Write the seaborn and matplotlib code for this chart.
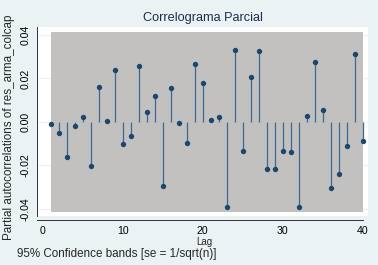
import numpy as np
import pandas as pd
from matplotlib import pyplot as plt
import seaborn as sns

# Partial autocorrelations
lags = list(range(1, 41))
pac = [-0.0008, -0.0049, -0.0162, -0.0017, 0.0024, -0.0204, 0.0162, 0.0006,
       0.0237, -0.0103, -0.0067, 0.0257, 0.0048, 0.0121, -0.0297, 0.0156,
       -0.0006, -0.0098, 0.0266, 0.0179, 0.0009, 0.0024, -0.0393, 0.0330,
       -0.0136, 0.0207, 0.0326, -0.0217, -0.0217, -0.0133, -0.0139, -0.0390,
       0.0029, 0.0274, 0.0055, -0.0303, -0.0239, -0.0113, 0.0315, -0.0087]
band = 0.0416  # 95% confidence band, 1.96/sqrt(n)

x_ticks = [0, 10, 20, 30, 40]
y_ticks = [-0.04, -0.02, 0.0, 0.02, 0.04]
y_ticklabels = ['-0.04', '-0.02', '0.00', '0.02', '0.04']

df = pd.DataFrame({'Lag': lags, 'pac': pac})

sns.set_style('white')
plt.rcParams['font.family'] = ['Liberation Sans', 'DejaVu Sans']

bg = '#EAF2F3'
navy = '#1A476F'

fig = plt.figure(figsize=(3.78, 2.65), dpi=100, facecolor=bg)
ax = fig.add_axes([37 / 378, 1 - 216 / 265, 331 / 378, 189 / 265])
ax.set_facecolor('white')

# confidence band
ax.fill_between([1, 40], [-band, -band], [band, band], color='#C3C1BF', lw=0, zorder=1)
# grid lines
for yt in y_ticks:
    ax.axhline(yt, color=bg, lw=0.8, zorder=0.5)

ax.vlines(df['Lag'], 0, df['pac'], color='#3A6891', lw=0.9, zorder=2)
sns.scatterplot(data=df, x='Lag', y='pac', ax=ax, color=navy, s=15,
                edgecolor=navy, linewidth=0, zorder=3)

ax.set_xlim(-0.71, 40.66)
ax.set_ylim(-0.0433, 0.0437)
ax.set_xticks(x_ticks)
ax.set_yticks(y_ticks)
ax.set_yticklabels(y_ticklabels, rotation=90, va='center')
ax.tick_params(axis='both', direction='out', length=3, width=0.6, color='#333333',
               labelsize=7.6, pad=1.5, labelcolor='black')
ax.tick_params(axis='x', pad=1.5)

for s in ['top', 'right']:
    ax.spines[s].set_visible(False)
ax.spines['left'].set_color('#333333')
ax.spines['bottom'].set_color('#333333')
ax.spines['left'].set_linewidth(0.7)
ax.spines['bottom'].set_linewidth(0.7)
ax.spines['bottom'].set_position(('outward', 3))
ax.spines['bottom'].set_bounds(-0.71, 40)

ax.set_xlabel('')
ax.set_ylabel('')

fig.text(203 / 378, 1 - 18 / 265, 'Correlograma Parcial', ha='center', va='center',
         fontsize=9.2, color='#1E2B4F')
fig.text(9 / 378, 1 - 127 / 265, 'Partial autocorrelations of res_arma_colcap',
         rotation=90, ha='center', va='center', fontsize=8.4)
fig.text(204 / 378, 1 - 242 / 265, 'Lag', ha='center', va='center', fontsize=7)
fig.text(17 / 378, 1 - 254 / 265, '95% Confidence bands [se = 1/sqrt(n)]',
         ha='left', va='center', fontsize=8.4)

fig.savefig('out.png', dpi=100, facecolor=bg)
